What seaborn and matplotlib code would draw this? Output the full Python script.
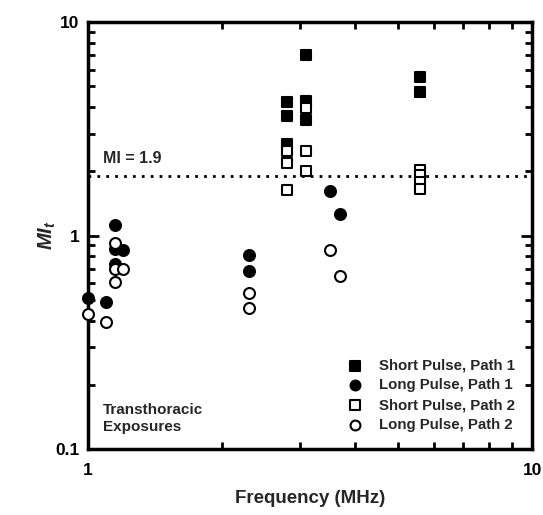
import pandas as pd
import numpy as np
import seaborn as sns
import matplotlib.pyplot as plt
from matplotlib.ticker import LogLocator, NullFormatter, FixedLocator, FixedFormatter

# values
short_p1_freq = [2.8, 2.8, 2.8, 3.1, 3.1, 3.1, 5.6, 5.6]
short_p1_mi = [4.23, 3.63, 2.70, 7.0, 4.27, 3.47, 5.54, 4.69]

long_p1_freq = [1.0, 1.1, 1.15, 1.15, 1.2, 1.15, 2.3, 2.3, 3.5, 3.7]
long_p1_mi = [0.51, 0.49, 1.12, 0.865, 0.855, 0.74, 0.81, 0.684, 1.615, 1.26]

short_p2_freq = [2.8, 2.8, 2.8, 3.1, 3.1, 3.1, 5.6, 5.6, 5.6, 5.6]
short_p2_mi = [2.50, 2.19, 1.63, 3.94, 2.49, 2.01, 2.04, 1.92, 1.79, 1.66]

long_p2_freq = [1.0, 1.1, 1.15, 1.15, 1.2, 1.15, 2.3, 2.3, 3.5, 3.7]
long_p2_mi = [0.43, 0.395, 0.92, 0.70, 0.694, 0.608, 0.536, 0.456, 0.855, 0.646]

mi_limit = 1.9

groups = [
    ('Short Pulse, Path 1', short_p1_freq, short_p1_mi, 's', 'black'),
    ('Long Pulse, Path 1', long_p1_freq, long_p1_mi, 'o', 'black'),
    ('Short Pulse, Path 2', short_p2_freq, short_p2_mi, 's', 'white'),
    ('Long Pulse, Path 2', long_p2_freq, long_p2_mi, 'o', 'white'),
]

sns.set_style('white')
plt.rcParams['font.family'] = ['Liberation Sans', 'DejaVu Sans']
plt.rcParams['mathtext.fontset'] = 'custom'
plt.rcParams['mathtext.bfit'] = 'Liberation Sans:italic:bold'
plt.rcParams['mathtext.it'] = 'Liberation Sans:italic:bold'

fig = plt.figure(figsize=(5.43, 5.15), dpi=100)
ax = fig.add_axes([0.162, 0.128, 0.818, 0.829])

# dotted MI limit line
ax.axhline(mi_limit, color='black', linestyle=(0, (1, 2.2)), linewidth=2, zorder=1)
ax.text(1.08, mi_limit * 1.12, 'MI = 1.9', fontsize=11.5, fontweight='bold', va='bottom')

for label, fx, my, mk, fc in groups:
    df = pd.DataFrame({'freq': fx, 'mi': my})
    size = 62 if mk == 'o' else 58
    sns.scatterplot(data=df, x='freq', y='mi', marker=mk, color=fc,
                    edgecolor='black', linewidth=1.5, s=size, label=label,
                    ax=ax, clip_on=False, zorder=3)

ax.set_xscale('log')
ax.set_yscale('log')
ax.set_xlim(1, 10)
ax.set_ylim(0.1, 10)

ax.xaxis.set_major_locator(FixedLocator([1, 10]))
ax.xaxis.set_major_formatter(FixedFormatter(['1', '10']))
ax.xaxis.set_minor_locator(LogLocator(base=10, subs=np.arange(2, 10)))
ax.xaxis.set_minor_formatter(NullFormatter())
ax.yaxis.set_major_locator(FixedLocator([0.1, 1, 10]))
ax.yaxis.set_major_formatter(FixedFormatter(['0.1', '1', '10']))
ax.yaxis.set_minor_locator(LogLocator(base=10, subs=np.arange(2, 10)))
ax.yaxis.set_minor_formatter(NullFormatter())

ax.tick_params(which='both', direction='in', top=True, right=True,
               bottom=True, left=True, width=2, colors='black')
ax.tick_params(which='major', length=8, labelsize=12.5, pad=6)
ax.tick_params(which='minor', length=5)
ax.tick_params(axis='x', which='major', pad=10)
for lab in ax.get_xticklabels() + ax.get_yticklabels():
    lab.set_fontweight('bold')

for sp in ax.spines.values():
    sp.set_visible(True)
    sp.set_linewidth(2.5)
    sp.set_color('black')

ax.set_xlabel('Frequency (MHz)', fontsize=13.5, fontweight='bold', labelpad=9)
ax.set_ylabel('$\\mathbfit{MI}_{\\mathbfit{t}}$', fontsize=14.5, labelpad=-2)

ax.text(1.08, 0.118, 'Transthoracic\nExposures', fontsize=11, fontweight='bold',
        va='bottom', linespacing=1.25)

leg = ax.legend(loc='lower right', frameon=False, prop={'weight': 'bold', 'size': 10.8},
                handletextpad=0.6, labelspacing=0.38, borderaxespad=0.75,
                markerscale=0.9)

fig.savefig('out.png', dpi=100)
